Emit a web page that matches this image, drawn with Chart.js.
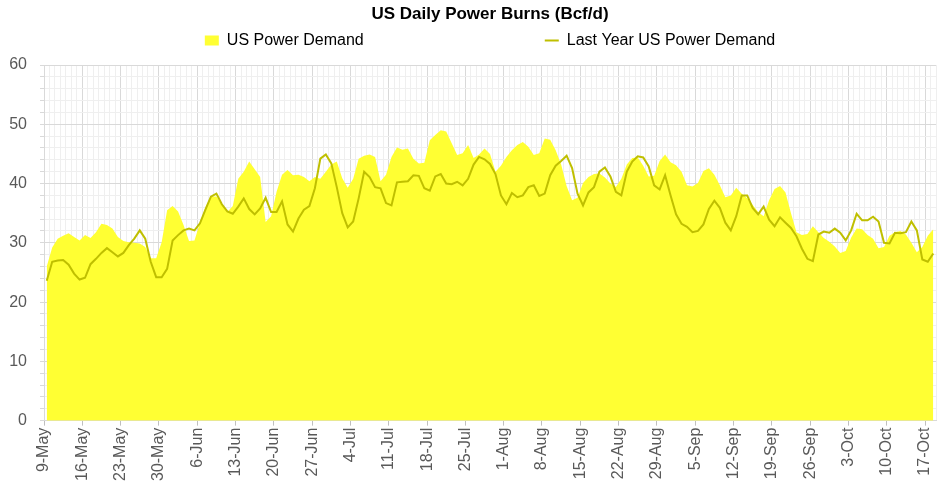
<!DOCTYPE html>
<html>
<head>
<meta charset="utf-8">
<script src="https://cdn.jsdelivr.net/npm/chart.js@4"></script>
<style>
  body { margin: 0; background: #fff; }
  #wrap { width: 938px; height: 483px; }
</style>
</head>
<body>
<div id="wrap"><canvas id="myChart"></canvas></div>
<script>
// daily values, 9-May .. 18-Oct (one row per week)
const usDemand = [
  26, 29.2, 30.7, 31.2, 31.6, 31, 30.4,
  31.3, 30.8, 31.8, 33.2, 33, 32.4, 31,
  30.3, 30.1, 30, 29.9, 29.3, 27.4, 27.4,
  30.1, 35.5, 36.2, 35.3, 33, 30.3, 30.4,
  33.4, 36, 37.8, 37.8, 36.5, 35.2, 36.2,
  40.8, 42, 43.7, 42.4, 41.1, 33.5, 34.5,
  38.6, 41.5, 42.3, 41.4, 41.5, 41.1, 40.4,
  41.1, 40.8, 42, 43.2, 43.7, 40.9, 39.3,
  40.8, 44.2, 44.7, 44.9, 44.5, 40.4, 41.5,
  44.5, 46.1, 45.7, 45.9, 44.2, 43.4, 43.5,
  47.3, 48.2, 49, 48.8, 46.8, 44.8, 45.1,
  46.5, 44.3, 44.9, 45.9, 45, 42, 43,
  44.5, 45.6, 46.5, 47, 46.2, 44.8, 45.1,
  47.6, 47.4, 45.6, 43.2, 39.6, 37.2, 37.6,
  40.1, 41.1, 41.6, 41.7, 41, 40, 39.4,
  40.8, 43.2, 44.3, 44.4, 43, 41.2, 41.3,
  43.8, 44.9, 43.6, 43.1, 42, 39.7, 39.5,
  40.1, 42.1, 42.6, 41.5, 39.7, 37.7, 38,
  39.3, 38.3, 37.5, 36.4, 35.2, 34.5, 37.2,
  39.1, 39.6, 38.5, 35, 31.8, 31.3, 31.5,
  32.8, 31.8, 30.8, 30.2, 29.4, 28.3, 28.6,
  30.9, 32.4, 32.3, 31.3, 30.7, 29.1, 29.3,
  31.2, 31.8, 32, 31.4, 30, 28.4, 29.3,
  31.2, 32.3
];

const lastYear = [
  23.6, 26.8, 27, 27.1, 26.3, 24.8, 23.8,
  24.1, 26.4, 27.3, 28.3, 29.1, 28.4, 27.7,
  28.3, 29.6, 30.7, 32.1, 30.7, 26.8, 24.2,
  24.2, 25.6, 30.4, 31.3, 32.1, 32.4, 32.1,
  33.3, 35.6, 37.8, 38.3, 36.5, 35.3, 34.9,
  36.1, 37.5, 35.7, 34.8, 35.8, 37.6, 35.2,
  35.2, 37, 33.1, 31.9, 34.1, 35.6, 36.2,
  39.2, 44.2, 44.9, 43.4, 39.4, 35, 32.6,
  33.6, 37.5, 42, 41.1, 39.4, 39.2, 36.7,
  36.3, 40.2, 40.3, 40.4, 41.4, 41.3, 39.2,
  38.8, 41.2, 41.6, 40, 39.9, 40.3, 39.7,
  40.8, 43.2, 44.5, 44.1, 43.3, 41.6, 38,
  36.5, 38.4, 37.7, 38, 39.4, 39.7, 37.9,
  38.3, 41.4, 43, 43.8, 44.7, 42.6, 38.3,
  36.3, 38.5, 39.4, 42, 42.7, 41.2, 38.6,
  38, 42, 43.7, 44.6, 44.4, 42.9, 39.7,
  39, 41.4, 38, 34.8, 33.2, 32.7, 31.8,
  32, 33.1, 35.7, 37.1, 35.9, 33.4, 32.1,
  34.5, 38, 38, 35.9, 34.8, 36.1, 33.9,
  32.8, 34.3, 33.4, 32.5, 31.1, 29, 27.3,
  26.9, 31.4, 31.9, 31.7, 32.4, 31.7, 30.4,
  32.1, 34.9, 33.8, 33.8, 34.4, 33.6, 30,
  29.9, 31.7, 31.6, 31.8, 33.6, 32.1, 27.2,
  26.8, 28.2
];

// category labels: one per day starting 9-May
const months = ['Jan', 'Feb', 'Mar', 'Apr', 'May', 'Jun', 'Jul', 'Aug', 'Sep', 'Oct', 'Nov', 'Dec'];
const dates = [];
for (let i = 0; i < usDemand.length; i++) {
    const d = new Date(2023, 4, 9 + i);
    dates.push(d.getDate() + '-' + months[d.getMonth()]);
}

const yellow = '#ffff33';
const olive = '#bfbf00';
const textGray = '#595959';

Chart.defaults.font.family = "'Liberation Sans', Arial, sans-serif";
Chart.defaults.font.size = 16;
Chart.defaults.color = textGray;

const ctx = document.getElementById('myChart').getContext('2d');

const data = {
    labels: dates,
    datasets: [{
        label: 'US Power Demand',
        data: usDemand,
        backgroundColor: yellow,
        borderColor: yellow,
        borderWidth: 0,
        fill: 'origin',
        pointRadius: 0,
        tension: 0,
        order: 2
    },
    {
        label: 'Last Year US Power Demand',
        data: lastYear,
        borderColor: olive,
        backgroundColor: olive,
        borderWidth: 2,
        fill: false,
        pointRadius: 0,
        tension: 0,
        order: 1
    }]
};

// legend: wide gap between the two entries (empty spacer items)
function legendItems(chart) {
    const ds = chart.data.datasets;
    const items = [{
        text: ds[0].label, fillStyle: yellow, strokeStyle: yellow,
        lineWidth: 0, pointStyle: 'rect', datasetIndex: 0
    }];
    for (let k = 0; k < 6; k++) {
        items.push({ text: '', fillStyle: 'rgba(0,0,0,0)', strokeStyle: 'rgba(0,0,0,0)', lineWidth: 0, pointStyle: 'rect' });
    }
    items.push({
        text: ds[1].label, fillStyle: olive, strokeStyle: olive,
        lineWidth: 2, pointStyle: 'line', datasetIndex: 1
    });
    return items;
}

const config = {
    type: 'line',
    data: data,
    options: {
        responsive: true,
        maintainAspectRatio: false,
        animation: false,
        layout: { padding: { left: 9, right: 2, top: 0, bottom: 0 } },
        plugins: {
            title: {
                display: true,
                text: 'US Daily Power Burns (Bcf/d)',
                color: '#000',
                fullSize: false,
                font: { size: 17, weight: 'bold' },
                padding: { top: 4.5, bottom: 0.5 }
            },
            // empty subtitle under the legend = gap above the plot
            subtitle: {
                display: true,
                text: '',
                weight: 500,
                fullSize: false,
                font: { size: 6, lineHeight: 1 },
                padding: { top: 0.6, bottom: 0 }
            },
            legend: {
                fullSize: false,
                labels: {
                    usePointStyle: true,
                    pointStyleWidth: 14,
                    boxHeight: 10,
                    padding: 7,
                    color: textGray,
                    font: { size: 16 },
                    generateLabels: legendItems
                }
            },
            tooltip: { enabled: false }
        },
        scales: {
            x: {
                offset: true,
                // rotated labels should not push the plot inwards
                afterFit: s => { s.paddingLeft = 0; s.paddingRight = 0; },
                grid: {
                    offset: true,
                    color: c => (c.index % 7 === 0 ? '#d9d9d9' : '#efefef'),
                    tickColor: c => (c.index % 7 === 0 ? '#bfbfbf' : 'rgba(0,0,0,0)'),
                    tickLength: 5
                },
                border: { color: '#d9d9d9' },
                ticks: {
                    autoSkip: false,
                    minRotation: 90,
                    maxRotation: 90,
                    padding: 2,
                    labelOffset: -2.7,
                    color: textGray,
                    callback: (v, i) => (i % 7 === 0 ? dates[i] : '')
                }
            },
            y: {
                min: 0,
                max: 60,
                afterFit: s => { s.width = 35; },
                grid: {
                    color: c => (c.tick && c.tick.value % 10 === 0 ? '#d9d9d9' : '#efefef'),
                    tickColor: '#d9d9d9',
                    tickLength: 4
                },
                border: { color: '#d9d9d9' },
                ticks: {
                    stepSize: 2,
                    autoSkip: false,
                    padding: 13,
                    color: textGray,
                    callback: v => (v % 10 === 0 ? v : '')
                }
            }
        }
    }
};

const myChart = new Chart(ctx, config);
</script>
</body>
</html>
